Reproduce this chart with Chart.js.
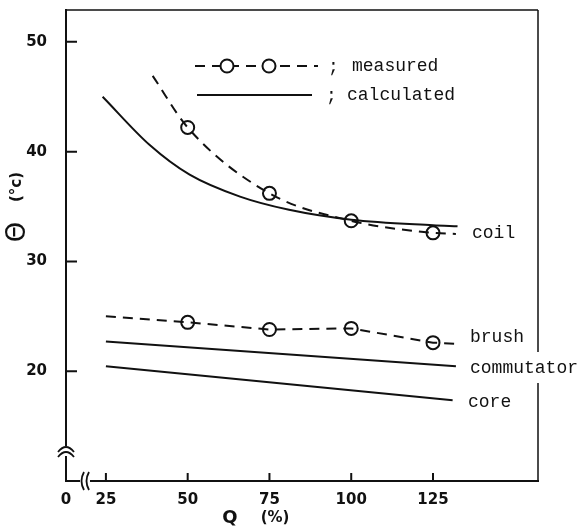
<!DOCTYPE html>
<html lang="en">
<head>
  <meta charset="UTF-8" />
  <title>Temperature rise vs load</title>
  <script src="https://cdn.jsdelivr.net/npm/chart.js"></script>
  <style>
    body { margin: 0; background: #fff; }
    canvas { display: block; }
  </style>
</head>
<body>
  <canvas id="chart" width="585" height="530"></canvas>

  <script>
    // ------------------ Data ------------------
    const xMin = 12.8, xMax = 157.1;
    const yMin = 10, yMax = 52.9;
    const xTicks = [25, 50, 75, 100, 125];
    const yTicks = [20, 30, 40, 50];

    // calculated (solid)
    const coilCalcX = [24, 38.4, 50.6, 66, 81, 100, 125, 132.5];
    const coilCalcY = [45.0, 40.6, 37.9, 35.9, 34.7, 33.8, 33.3, 33.2];
    const commX = [25, 132];
    const commY = [22.7, 20.45];
    const coreX = [25, 131];
    const coreY = [20.45, 17.35];

    // measured (dashed line + circles)
    const coilMeasX = [39.3, 50, 75, 100, 125, 132];
    const coilMeasY = [46.9, 42.2, 36.2, 33.7, 32.6, 32.5];
    const coilPtsX = [50, 75, 100, 125];
    const coilPtsY = [42.2, 36.2, 33.7, 32.6];
    const brushX = [25, 50, 75, 100, 125, 132];
    const brushY = [25.0, 24.45, 23.8, 23.9, 22.6, 22.5];
    const brushPtsX = [50, 75, 100, 125];
    const brushPtsY = [24.45, 23.8, 23.9, 22.6];

    const pts = (xs, ys) => xs.map((x, i) => ({ x: x, y: ys[i] }));

    const ink = '#111';
    const mono = '18px "Liberation Mono", "DejaVu Sans Mono", monospace';

    function solid(xs, ys, smooth) {
      return { data: pts(xs, ys), borderColor: ink, borderWidth: 2, pointRadius: 0,
               showLine: true, tension: smooth ? 0.4 : 0,
               cubicInterpolationMode: smooth ? 'monotone' : 'default' };
    }
    function dashed(xs, ys, smooth) {
      const d = solid(xs, ys, smooth);
      d.borderDash = [10, 7];
      return d;
    }
    function circles(xs, ys) {
      return { data: pts(xs, ys), showLine: false, pointRadius: 6.5, pointHoverRadius: 6.5,
               pointBackgroundColor: '#fff', pointBorderColor: ink, pointBorderWidth: 2 };
    }

    // ------------------ Decorations ------------------
    const decor = {
      id: 'decor',
      afterDraw(chart) {
        const c = chart.ctx, a = chart.chartArea;
        const xs = chart.scales.x, ys = chart.scales.y;
        c.save();
        c.strokeStyle = ink;
        c.fillStyle = ink;
        c.lineWidth = 2;
        c.setLineDash([]);

        // inward tick marks
        c.beginPath();
        yTicks.forEach(v => { const p = ys.getPixelForValue(v); c.moveTo(a.left, p); c.lineTo(a.left + 11, p); });
        xTicks.forEach(v => { const p = xs.getPixelForValue(v); c.moveTo(p, a.bottom); c.lineTo(p, a.bottom - 8); });
        c.stroke();

        // top and right frame (right one broken by the "commutator" label)
        c.lineWidth = 1.5;
        c.beginPath();
        c.moveTo(a.left, a.top); c.lineTo(a.right, a.top);
        c.moveTo(a.right, a.top); c.lineTo(a.right, 352);
        c.moveTo(a.right, 383); c.lineTo(a.right, a.bottom);
        c.stroke();

        // axis breaks
        c.lineWidth = 1.8;
        c.fillStyle = '#fff';
        c.fillRect(a.left - 2, 446, 4, 10);
        c.beginPath();
        c.moveTo(a.left - 8, 452); c.quadraticCurveTo(a.left, 442, a.left + 8, 452);
        c.moveTo(a.left - 8, 457); c.quadraticCurveTo(a.left, 447, a.left + 8, 457);
        c.stroke();
        c.fillRect(80, a.bottom - 3, 10, 6);
        c.beginPath();
        c.moveTo(84, a.bottom - 9); c.quadraticCurveTo(79, a.bottom, 84, a.bottom + 9);
        c.moveTo(89, a.bottom - 9); c.quadraticCurveTo(84, a.bottom, 89, a.bottom + 9);
        c.stroke();

        // legend
        c.fillStyle = ink;
        c.lineWidth = 2;
        c.setLineDash([10, 7]);
        c.beginPath(); c.moveTo(195, 66); c.lineTo(318, 66); c.stroke();
        c.setLineDash([]);
        c.beginPath(); c.moveTo(197, 95); c.lineTo(312, 95); c.stroke();
        [227, 269].forEach(x => {
          c.beginPath(); c.arc(x, 66, 6.5, 0, Math.PI * 2);
          c.fillStyle = '#fff'; c.fill(); c.stroke();
        });
        c.fillStyle = ink;
        c.font = mono;
        c.textBaseline = 'middle';
        c.textAlign = 'left';
        c.fillText(';', 328, 67);
        c.fillText('measured', 352, 66);
        c.fillText(';', 326, 96);
        c.fillText('calculated', 347, 95);

        // curve labels
        c.fillText('coil', 472, 233);
        c.fillText('brush', 470, 337);
        c.fillText('commutator', 470, 368);
        c.fillText('core', 468, 402);

        // axis titles
        c.textAlign = 'center';
        c.font = 'bold 18px "DejaVu Sans", sans-serif';
        c.fillText('Q', 230, 518);
        c.font = 'bold 15px "DejaVu Sans", sans-serif';
        c.fillText('(%)', 275, 518);
        c.save();
        c.translate(17, 0);
        c.rotate(-Math.PI / 2);
        c.font = '26px "DejaVu Sans", sans-serif';
        c.fillText('\u0398', -232, 1);
        c.font = 'bold 15px "DejaVu Sans", sans-serif';
        c.fillText('(\u00b0c)', -187, 0);
        c.restore();
        c.restore();
      }
    };

    new Chart(document.getElementById('chart'), {
      type: 'scatter',
      data: {
        datasets: [
          solid(coilCalcX, coilCalcY, true),
          solid(commX, commY, false),
          solid(coreX, coreY, false),
          dashed(coilMeasX, coilMeasY, true),
          dashed(brushX, brushY, false),
          circles(coilPtsX, coilPtsY),
          circles(brushPtsX, brushPtsY)
        ]
      },
      options: {
        responsive: false,
        animation: false,
        devicePixelRatio: 1,
        layout: { padding: { left: 0, top: 10, right: 47, bottom: 0 } },
        plugins: { legend: { display: false }, tooltip: { enabled: false } },
        scales: {
          x: {
            type: 'linear', min: xMin, max: xMax,
            afterBuildTicks: s => { s.ticks = [xMin].concat(xTicks).map(v => ({ value: v })); },
            afterFit: s => { s.height = 49; s.paddingLeft = 0; s.paddingRight = 0; },
            grid: { display: false },
            border: { color: ink, width: 2 },
            ticks: {
              color: ink, padding: 2, maxRotation: 0, autoSkip: false,
              font: { family: 'DejaVu Sans', size: 15, weight: 'bold' },
              callback: v => (v === xMin ? '0' : v)
            }
          },
          y: {
            type: 'linear', min: yMin, max: yMax,
            afterBuildTicks: s => { s.ticks = yTicks.map(v => ({ value: v })); },
            afterFit: s => { s.width = 66; s.paddingTop = 0; s.paddingBottom = 0; },
            grid: { display: false },
            border: { color: ink, width: 2 },
            ticks: {
              color: ink, padding: 11, autoSkip: false,
              font: { family: 'DejaVu Sans', size: 15, weight: 'bold' }
            }
          }
        }
      },
      plugins: [decor]
    });
  </script>
</body>
</html>
